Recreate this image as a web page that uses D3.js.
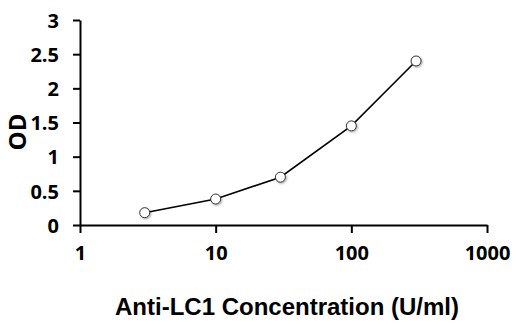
<!DOCTYPE html>
<html><head><meta charset="utf-8">
<script src="https://cdn.jsdelivr.net/npm/d3@7"></script>
<style>body{margin:0;background:#fff}svg{display:block}</style>
</head><body>
<svg id="c" width="523" height="324"></svg>
<script>
const concentrations = [3, 10, 30, 100, 300];
const odValues = [0.18, 0.38, 0.70, 1.45, 2.40];
const xTicks = [1, 10, 100, 1000];
const yTicks = [0, 0.5, 1, 1.5, 2, 2.5, 3];
const xTitle = "Anti-LC1 Concentration (U/ml)";
const yTitle = "OD";

const svg = d3.select("#c");
const x = d3.scaleLog().domain([1, 1000]).range([80, 487]);
const y = d3.scaleLinear().domain([0, 3]).range([225, 20]);
const tickFont = "'Open Sans', sans-serif";

const xAxis = svg.append("g").attr("transform", "translate(0,225)")
  .call(d3.axisBottom(x).tickValues(xTicks).tickFormat(d3.format("d")).tickSize(8).tickPadding(13).tickSizeOuter(0));
const yAxis = svg.append("g").attr("transform", "translate(80,0)")
  .call(d3.axisLeft(y).tickValues(yTicks).tickFormat(d => String(d)).tickSize(7).tickPadding(14).tickSizeOuter(0));

[xAxis, yAxis].forEach(g => {
  g.select(".domain").attr("stroke", "#000").attr("stroke-width", 2);
  g.selectAll(".tick line").attr("stroke", "#000").attr("stroke-width", 2);
  g.selectAll(".tick text").attr("fill", "#000").style("font-family", tickFont)
    .style("font-weight", "bold").style("font-size", "20px");
});
yAxis.selectAll(".tick text").attr("dy", "0.36em");
xAxis.selectAll(".tick text").attr("dy", "0.71em");

svg.append("text").attr("x", 287).attr("y", 315).attr("text-anchor", "middle")
  .style("font-family", "'Liberation Sans', Arial, sans-serif").style("font-weight", "bold")
  .style("font-size", "24px").text(xTitle);
svg.append("text").attr("transform", "translate(26,132) rotate(-90)").attr("text-anchor", "middle")
  .style("font-family", tickFont).style("font-weight", "bold").style("font-size", "24px").text(yTitle);

const data = concentrations.map((c, i) => ({c, v: odValues[i]}));
const defs = svg.append("defs");
const f = defs.append("filter").attr("id", "sh").attr("x", "-50%").attr("y", "-50%").attr("width", "200%").attr("height", "200%");
f.append("feDropShadow").attr("dx", 1).attr("dy", 1).attr("stdDeviation", 0.8).attr("flood-color", "#000").attr("flood-opacity", 0.35);

svg.append("path").datum(data).attr("fill", "none").attr("stroke", "#000").attr("stroke-width", 1.6)
  .attr("d", d3.line().x(d => x(d.c)).y(d => y(d.v)));
svg.selectAll("circle").data(data).join("circle")
  .attr("cx", d => x(d.c)).attr("cy", d => y(d.v)).attr("r", 5)
  .attr("fill", "#fff").attr("stroke", "#333").attr("stroke-width", 1).attr("filter", "url(#sh)");
</script>
</body></html>
